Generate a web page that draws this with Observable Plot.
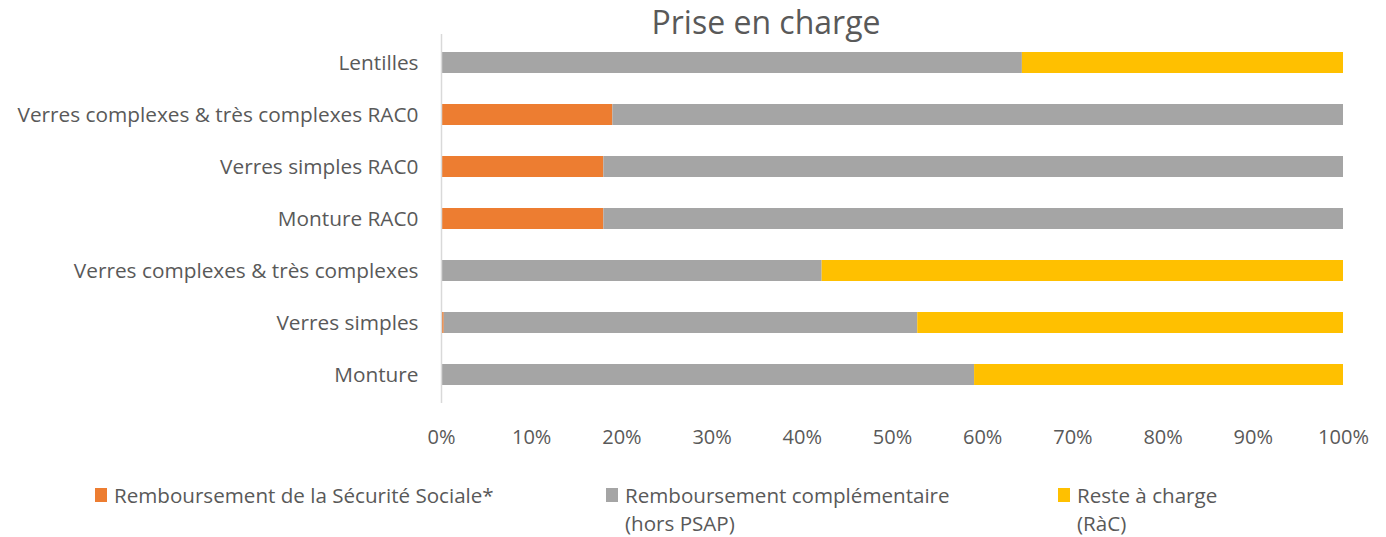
<!DOCTYPE html>
<html><head><meta charset="utf-8">
<script src="https://cdn.jsdelivr.net/npm/d3@7"></script>
<script src="https://cdn.jsdelivr.net/npm/@observablehq/plot@0.6"></script>
<style>
body{margin:0;background:#fff;font-family:"Open Sans",sans-serif;color:#595959;}
#wrap{position:relative;width:1386px;height:537px;overflow:hidden;}
#title{position:absolute;left:0;width:1532px;top:0px;text-align:center;font-size:32px;line-height:44px;color:#595959;}
#chart{position:absolute;left:0;top:0;}
.leg{position:absolute;font-size:20.6px;line-height:28px;color:#595959;white-space:nowrap;}
.sw{position:absolute;width:12px;height:14px;}
</style></head>
<body><div id="wrap"><div id="chart"></div><div id="title">Prise en charge</div><div id="legend"></div></div>
<script>
const categories = ["Lentilles","Verres complexes & très complexes RAC0","Verres simples RAC0","Monture RAC0","Verres complexes & très complexes","Verres simples","Monture"];
const series = ["Remboursement de la Sécurité Sociale*","Remboursement complémentaire (hors PSAP)","Reste à charge (RàC)"];
const secu = [0, 19.0, 18.0, 18.0, 0, 0.3, 0];
const compl = [64.4, 81.0, 82.0, 82.0, 42.2, 52.5, 59.1];
const rac = [35.6, 0, 0, 0, 57.8, 47.2, 40.9];
const colors = ["#ED7D31","#A5A5A5","#FFC000"];
const ticks = [0,10,20,30,40,50,60,70,80,90,100];

const data = [];
categories.forEach((c,i)=>{
  [secu,compl,rac].forEach((arr,j)=>data.push({cat:c, serie:series[j], order:j, value:arr[i]}));
});

const chart = Plot.plot({
  width:1386, height:460,
  marginLeft:441, marginRight:43, marginTop:34, marginBottom:57,
  style:{fontFamily:"'Open Sans',sans-serif", fontSize:"20px", color:"#595959", background:"transparent"},
  x:{domain:[0,100], ticks:ticks, tickFormat:d=>d+"%", label:null},
  y:{domain:categories, paddingInner:0.6, paddingOuter:0.3, label:null},
  color:{domain:series, range:colors},
  marks:[
    Plot.barX(data, Plot.stackX({x:"value", y:"cat", fill:"serie", order:"order"})),
    Plot.ruleX([0],{stroke:"#D9D9D9", strokeWidth:1.5}),
    Plot.axisX({ticks:ticks, tickFormat:d=>d+"%", tickSize:0, tickPadding:26, fontSize:20, fill:"#595959"}),
    Plot.axisY({tickSize:0, tickPadding:23, fontSize:20.8, fill:"#595959"})
  ]
});
document.getElementById("chart").appendChild(chart);

const leg = document.getElementById("legend");
const legItems = [
  {x:95, lines:["Remboursement de la Sécurité Sociale*"]},
  {x:606, lines:["Remboursement complémentaire","(hors PSAP)"]},
  {x:1058, lines:["Reste à charge","(RàC)"]}
];
legItems.forEach((it,i)=>{
  const sw=document.createElement("div");sw.className="sw";
  sw.style.left=it.x+"px";sw.style.top="488px";sw.style.background=colors[i];
  leg.appendChild(sw);
  const t=document.createElement("div");t.className="leg";
  t.style.left=(it.x+19)+"px";t.style.top="481px";
  t.innerHTML=it.lines.join("<br>");
  leg.appendChild(t);
});
</script></body></html>
